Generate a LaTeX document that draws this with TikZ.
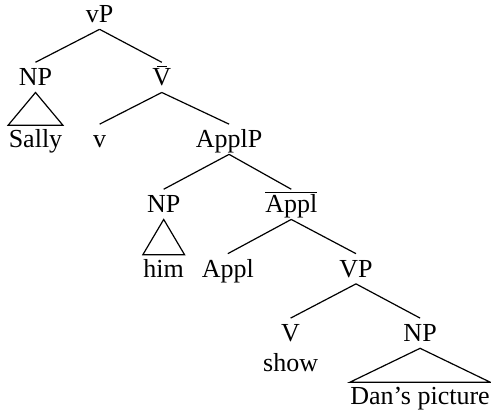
\documentclass[tikz,border=0pt]{standalone}
\usepackage{fontspec}
\setmainfont{Liberation Serif}
\begin{document}
\begin{tikzpicture}[x=32.05pt, y=-31.9pt, line width=0.6pt,
    lbl/.style={anchor=base, inner sep=0pt, text height=11.5pt, text depth=3pt, font=\fontsize{13}{15}\selectfont},
    leaf/.style={lbl, text height=11pt}]
      \useasboundingbox (-0.554, -0.356) rectangle (7.106, 6.18);

      \node[lbl] (vp) at (1, 0) {vP};
      \node[lbl] (npa) at (0, 0.99) {NP};
      \node[lbl] (vbar) at (1.97, 0.99) {\rlap{\kern2.2pt\rule[9.4pt]{5pt}{0.5pt}}V};
      \node[leaf] (sally) at (0, 1.96) {Sally};
      \node[lbl] (vsmall) at (1, 1.96) {v};
      \node[lbl] (applp) at (3.02, 1.96) {ApplP};
      \node[lbl] (npb) at (2, 2.98) {NP};
      \node[lbl] (applbar) at (3.99, 2.98) {$\overline{\hbox{Appl}}$};
      \node[leaf] (him) at (2, 3.99) {him};
      \node[lbl] (appl) at (3, 3.99) {Appl};
      \node[lbl] (bigvp) at (5, 3.99) {VP};
      \node[lbl] (verb) at (3.98, 5) {V};
      \node[lbl] (npc) at (6, 5) {NP};
      \node[lbl] (show) at (3.98, 5.47) {show};
      \node[leaf] (pic) at (6, 5.99) {Dan’s picture};

      \draw (vp.south) -- (npa.north);
      \draw (vp.south) -- (vbar.north);
      \draw (vbar.south) -- (vsmall.north);
      \draw (vbar.south) -- (applp.north);
      \draw (applp.south) -- (npb.north);
      \draw (applp.south) -- (applbar.north);
      \draw (applbar.south) -- (appl.north);
      \draw (applbar.south) -- (bigvp.north);
      \draw (bigvp.south) -- (verb.north);
      \draw (bigvp.south) -- (npc.north);

      \draw (npa.south) -- (sally.north west) -- (sally.north east) -- cycle;
      \draw (npb.south) -- (him.north west) -- (him.north east) -- cycle;
      \draw (npc.south) -- (pic.north west) -- (pic.north east) -- cycle;
    \end{tikzpicture}
\end{document}
